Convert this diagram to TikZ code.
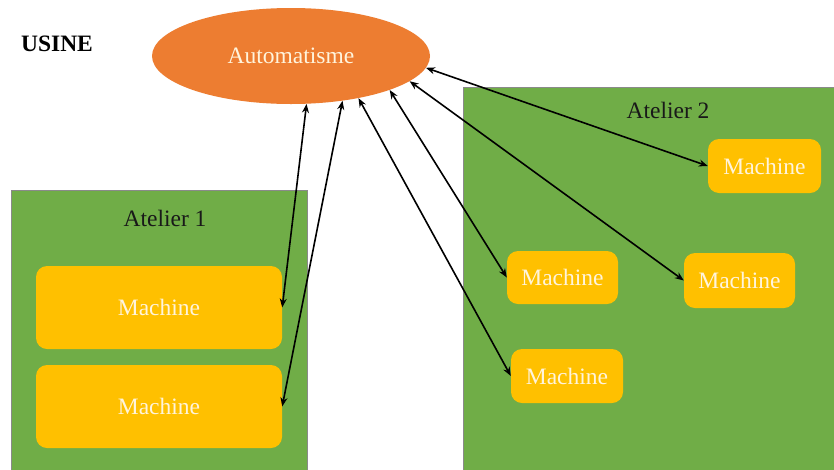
\documentclass[tikz,border=0pt]{standalone}
\usepackage{fontspec}
\setmainfont{Liberation Serif}
\usetikzlibrary{shapes.geometric,arrows.meta}
\definecolor{orangeA}{HTML}{ED7D31}
\definecolor{greenA}{HTML}{70AD47}
\definecolor{yellowA}{HTML}{FFC000}
\definecolor{creamA}{HTML}{FFF4DC}
\definecolor{borderA}{HTML}{8A8A8A}
\begin{document}
\begin{tikzpicture}[x=1pt,y=-1pt,
  txt/.style={font=\fontsize{23.5}{27}\selectfont},
  atelier/.style={fill=greenA,draw=borderA,line width=0.8pt,inner sep=0pt},
  machine/.style={txt,fill=yellowA,rounded corners=11pt,text=creamA,inner sep=0pt},
  link/.style={{Stealth[length=9pt,width=7pt]}-{Stealth[length=9pt,width=7pt]},line width=1.6pt,black}
]
\useasboundingbox (0,0) rectangle (834,469);
\clip (0,0) rectangle (834,469);
\fill[white] (0,0) rectangle (834,469);
% containers
\node[atelier,minimum width=296pt,minimum height=300pt] (at1) at (159,340) {};
\node[atelier,minimum width=380pt,minimum height=400pt] (at2) at (653,287) {};
\node[txt,text=black!90] (t1) at (165,218) {Atelier 1};
\node[txt,text=black!90] (t2) at (668,110) {Atelier 2};
\node[txt,font=\fontsize{23.5}{27}\selectfont\bfseries] (usine) at (57,44) {USINE};
% automatisme
\node[ellipse,fill=orangeA,minimum width=278pt,minimum height=96pt,inner sep=0pt,txt,text=creamA] (auto) at (291,56) {Automatisme};
% machines
\node[machine,minimum width=246pt,minimum height=83pt] (m1) at (159,307.5) {Machine};
\node[machine,minimum width=246pt,minimum height=83pt] (m2) at (159,406.5) {Machine};
\node[machine,minimum width=113pt,minimum height=54pt] (ma) at (764.5,166) {Machine};
\node[machine,minimum width=111pt,minimum height=53pt] (mb) at (562.5,277.5) {Machine};
\node[machine,minimum width=111pt,minimum height=55pt] (mc) at (739.5,280.5) {Machine};
\node[machine,minimum width=112pt,minimum height=54pt] (md) at (567,376) {Machine};
% links
\draw[link] (auto.-72) -- (m1.east);
\draw[link] (auto.-41) -- (m2.east);
\draw[link] (auto.-32) -- (md.west);
\draw[link] (auto.-19) -- (mb.west);
\draw[link] (auto.-12) -- (mc.west);
\draw[link] (auto.-5) -- (ma.west);
\end{tikzpicture}
\end{document}
